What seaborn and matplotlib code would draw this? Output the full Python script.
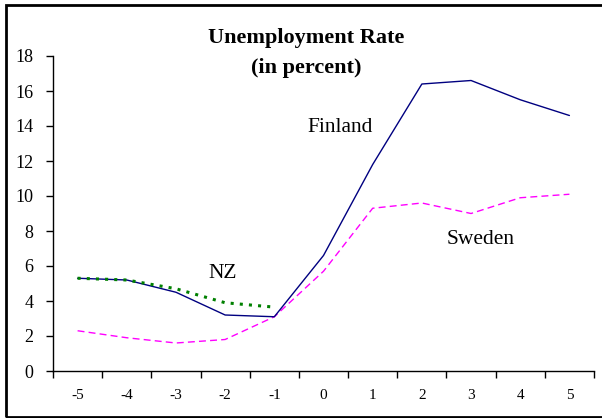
import matplotlib
matplotlib.use("Agg")
import matplotlib.pyplot as plt
import seaborn as sns
import pandas as pd
from matplotlib.patches import Rectangle

years = [-5, -4, -3, -2, -1, 0, 1, 2, 3, 4, 5]
finland = [5.3, 5.2, 4.5, 3.2, 3.1, 6.6, 11.8, 16.4, 16.6, 15.5, 14.6]
sweden = [2.3, 1.9, 1.6, 1.8, 3.1, 5.7, 9.3, 9.6, 9.0, 9.9, 10.1]
nz_years = [-5, -4, -3, -2, -1]
nz = [5.3, 5.2, 4.7, 3.9, 3.65]
y_ticks = [0, 2, 4, 6, 8, 10, 12, 14, 16, 18]

sns.set_style("white")
plt.rcParams['font.family'] = ['Liberation Serif', 'DejaVu Serif']
plt.rcParams['text.color'] = 'black'
plt.rcParams['xtick.color'] = 'black'
plt.rcParams['ytick.color'] = 'black'

fig = plt.figure(figsize=(6.02, 4.18), dpi=100)
ax = fig.add_axes([53/602, (418-371)/418, (594-53)/602, (371-56)/418])

df_f = pd.DataFrame({"x": years, "y": finland})
df_s = pd.DataFrame({"x": years, "y": sweden})
df_n = pd.DataFrame({"x": nz_years, "y": nz})

sns.lineplot(data=df_s, x="x", y="y", ax=ax, color="#FF00FF", linewidth=1.0,
             linestyle=(0, (5, 3)))
sns.lineplot(data=df_f, x="x", y="y", ax=ax, color="#000080", linewidth=1.0)
sns.lineplot(data=df_n, x="x", y="y", ax=ax, color="#008000", linewidth=2.2,
             linestyle=(0, (1, 2)))

ax.set_xlim(-5.5, 5.5)
ax.set_ylim(0, 18)
ax.set_xlabel("")
ax.set_ylabel("")

ax.set_xticks([y - 0.5 for y in years] + [5.5])
ax.set_xticklabels([])
ax.set_xticks(years, minor=True)
ax.set_xticklabels([str(y) for y in years], minor=True, fontsize=11)
ax.tick_params(axis="x", which="major", direction="out", length=5, width=1, color="black", bottom=True)
ax.tick_params(axis="x", which="minor", length=0, pad=13, labelcolor="black")

ax.set_yticks(y_ticks)
ax.set_yticklabels([str(v) for v in y_ticks], fontsize=13)
ax.tick_params(axis="y", direction="out", length=5, width=1, color="black", left=True, pad=9,
               labelcolor="black")

for s in ["top", "right"]:
    ax.spines[s].set_visible(False)
for s in ["left", "bottom"]:
    ax.spines[s].set_color("black")
    ax.spines[s].set_linewidth(1.0)

fig.text(306/602, 1 - 38/418, "Unemployment Rate", ha="center", va="center",
         fontsize=16, fontweight="bold", color="black")
fig.text(306/602, 1 - 68/418, "(in percent)", ha="center", va="center",
         fontsize=16, fontweight="bold", color="black")

ax.text(0.33, 13.94, "Finland", fontsize=15.5, ha="center", va="center", color="black")
ax.text(3.2, 7.49, "Sweden", fontsize=15.5, ha="center", va="center", color="black")
ax.text(-2.04, 5.6, "NZ", fontsize=15.5, ha="center", va="center", color="black")

fig.patches.append(Rectangle((6/602, 1/418), 600/602, 412/418, transform=fig.transFigure,
                             fill=False, edgecolor="black", linewidth=2))

fig.savefig("out.png", dpi=100)
